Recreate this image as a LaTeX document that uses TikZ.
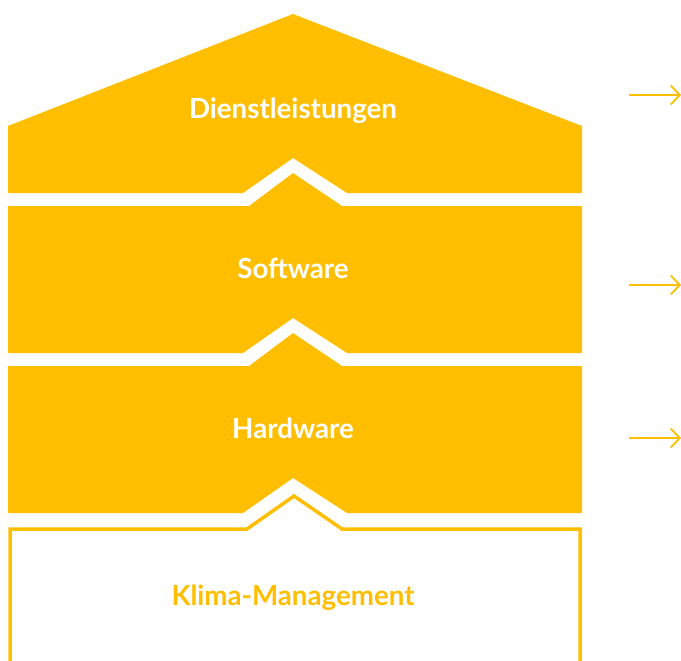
\documentclass[tikz,border=0pt]{standalone}
\usepackage{fontspec}
\setmainfont{Lato}
\usetikzlibrary{arrows.meta}
\definecolor{gold}{HTML}{FFBF00}
\tikzset{
  label/.style={font=\fontsize{27.7}{32}\selectfont\bfseries, text=white, inner sep=0pt, anchor=base},
  outlabel/.style={font=\fontsize{27.7}{32}\selectfont\bfseries, text=gold, inner sep=0pt, anchor=base},
  block/.style={fill=gold, draw=none},
  outline/.style={draw=gold, line width=3.5pt, line join=miter},
  pointer/.style={draw=gold, line width=1.8pt, -{Straight Barb[length=9pt,width=19pt,line width=1.8pt]}}
}
\begin{document}
\begin{tikzpicture}[x=1pt,y=-1pt]
\useasboundingbox (0,0) rectangle (681,661);
\begin{scope}
\clip (0,0) rectangle (681,661);
% Dienstleistungen (roof)
\fill[block] (8,126) -- (293,14) -- (582,126) -- (582,193) -- (347,193) -- (293,158) -- (243,193) -- (8,193) -- cycle;
% Software
\fill[block] (8,206) -- (249,206) -- (293,173) -- (342,206) -- (582,206) -- (582,353) -- (347,353) -- (293,318) -- (243,353) -- (8,353) -- cycle;
% Hardware
\fill[block] (8,366) -- (249,366) -- (293,333) -- (342,366) -- (582,366) -- (582,513) -- (347,513) -- (293,478) -- (243,513) -- (8,513) -- cycle;
% Klima-Management outline
\draw[outline] (10,670) -- (10,529) -- (247,529) -- (294,496) -- (342,529) -- (580,529) -- (580,670);
\end{scope}
\node[label] (dienst) at (293,118) {Dienstleistungen};
\node[label] (soft) at (293,278) {Software};
\node[label] (hard) at (293,438) {Hardware};
\node[outlabel] (klima) at (293,605) {Klima-Management};
% arrows
\coordinate (a1s) at (629,95);  \coordinate (a1e) at (681,95);
\coordinate (a2s) at (629,285); \coordinate (a2e) at (681,285);
\coordinate (a3s) at (629,438); \coordinate (a3e) at (681,438);
\draw[pointer] (a1s) -- (a1e);
\draw[pointer] (a2s) -- (a2e);
\draw[pointer] (a3s) -- (a3e);
\end{tikzpicture}
\end{document}
